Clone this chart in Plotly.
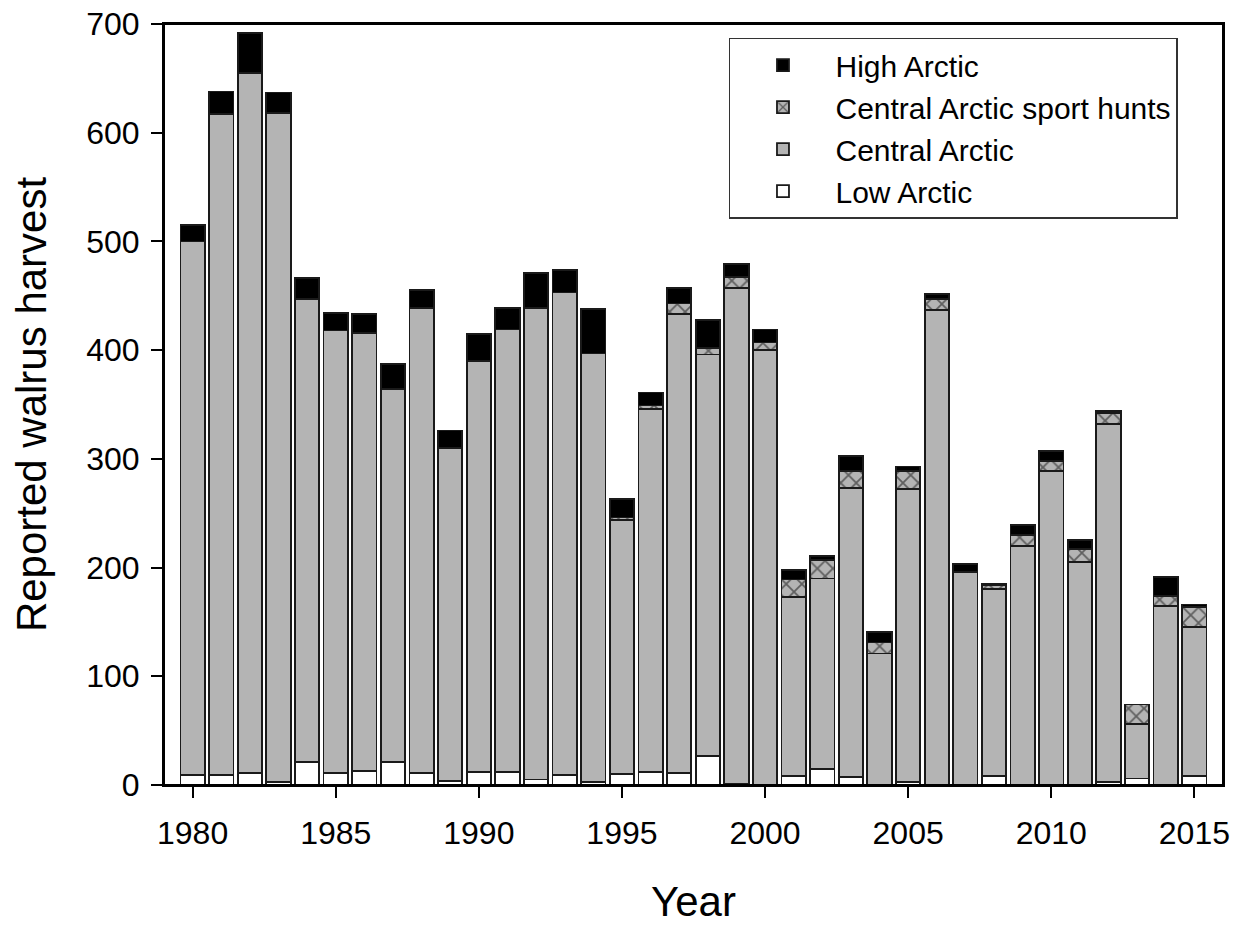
import plotly.graph_objects as go

years = list(range(1980, 2016))

low_arctic = [9, 9, 11, 3, 21, 11, 13, 21, 11, 4,
              12, 12, 5, 9, 3, 10, 12, 11, 27, 1,
              0, 8, 15, 7, 0, 3, 0, 0, 8, 0,
              0, 0, 3, 6, 0, 8]
central_arctic = [491, 608, 644, 615, 426, 407, 403, 343, 428, 306,
                  378, 407, 434, 444, 394, 234, 334, 422, 369, 456,
                  400, 165, 175, 266, 121, 269, 437, 196, 172, 220,
                  289, 205, 329, 50, 165, 137]
sport_hunts = [0, 0, 0, 0, 0, 0, 0, 0, 0, 0,
               0, 0, 0, 0, 0, 2, 3, 10, 6, 10,
               7, 16, 17, 16, 10, 17, 10, 0, 4, 10,
               9, 12, 10, 18, 9, 19]
high_arctic = [15, 21, 37, 19, 19, 16, 17, 23, 16, 16,
               25, 20, 32, 21, 41, 17, 12, 14, 26, 12,
               12, 9, 4, 14, 10, 4, 5, 7, 1, 9,
               9, 8, 2, 0, 17, 2]

x_ticks = [1980, 1985, 1990, 1995, 2000, 2005, 2010, 2015]
y_ticks = [0, 100, 200, 300, 400, 500, 600, 700]

FONT = "Liberation Sans, Arial, sans-serif"
outline = dict(color="#1a1a1a", width=1.8)

fig = go.Figure()
fig.add_trace(go.Bar(x=years, y=low_arctic, name="Low Arctic",
                     marker=dict(color="white", line=outline)))
fig.add_trace(go.Bar(x=years, y=central_arctic, name="Central Arctic",
                     marker=dict(color="#b4b4b4", line=outline)))
fig.add_trace(go.Bar(x=years, y=sport_hunts, name="Central Arctic sport hunts",
                     marker=dict(color="#b4b4b4", line=outline,
                                 pattern=dict(shape="x", fgcolor="#0a0a0a",
                                              bgcolor="#b4b4b4", size=11,
                                              solidity=0.3))))
fig.add_trace(go.Bar(x=years, y=high_arctic, name="High Arctic",
                     marker=dict(color="black", line=outline)))

fig.update_layout(
    width=1234, height=917,
    barmode="stack", bargap=0.15,
    plot_bgcolor="white", paper_bgcolor="white",
    margin=dict(l=156, r=19, t=16, b=140, autoexpand=False),
    font=dict(family=FONT, color="black", size=32),
    legend=dict(
        x=0.5335, xanchor="left", y=0.982, yanchor="top",
        traceorder="reversed",
        bordercolor="#333333", borderwidth=1.5, bgcolor="white",
        font=dict(size=30), itemwidth=95,
    ),
    shapes=[dict(type="rect", xref="paper", yref="paper", x0=0, x1=1,
                 y0=0, y1=1, line=dict(color="black", width=2),
                 layer="above")],
)
fig.update_xaxes(
    range=[1979, 2016], tickvals=x_ticks, ticks="outside", ticklen=11,
    tickwidth=2, tickcolor="black", showline=True, linecolor="black",
    linewidth=2, mirror=True, showgrid=False, zeroline=False,
    tickfont=dict(size=32), ticklabelstandoff=8, automargin=False,
    ticklabeloverflow="allow",
    title=dict(text="Year", font=dict(size=42), standoff=38),
)
fig.update_yaxes(
    range=[0, 700], tickvals=y_ticks, ticks="outside", ticklen=11,
    tickwidth=2, tickcolor="black", showline=True, linecolor="black",
    linewidth=2, mirror=True, showgrid=False, zeroline=False,
    tickfont=dict(size=32), ticklabelstandoff=5, automargin=False,
    ticklabeloverflow="allow",
    title=dict(text="Reported walrus harvest", font=dict(size=42), standoff=28),
)

fig.write_html("out.html")
